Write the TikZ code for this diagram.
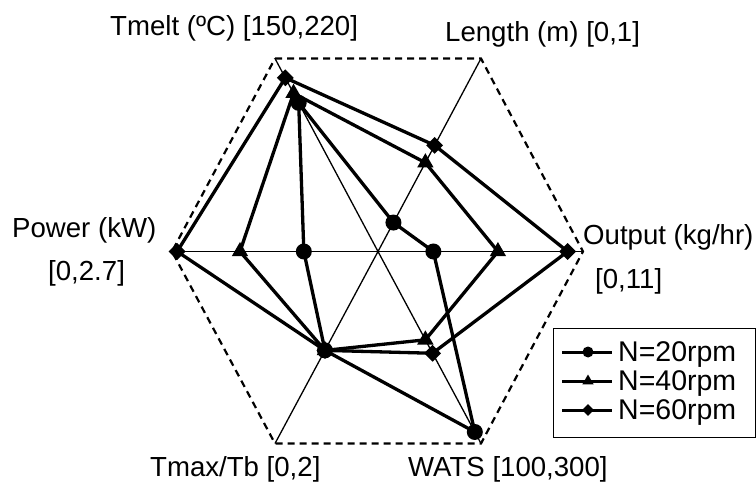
\documentclass[tikz,border=0pt]{standalone}
\usepackage{fontspec}
\setmainfont{Liberation Sans}
\usetikzlibrary{calc,shapes.geometric}
\begin{document}
\begin{tikzpicture}[x=1pt,y=-1pt,
  lbl/.style={inner sep=0,font=\fontsize{27.6}{32}\selectfont,anchor=base west},
  leglbl/.style={inner sep=0,font=\fontsize{28.5}{32}\selectfont,anchor=base west},
  axisline/.style={line width=1.3pt},
  hexline/.style={line width=2.2pt,dash pattern=on 7pt off 5pt},
  series/.style={line width=3.3pt,line join=round},
  mcirc/.style={circle,fill=black,inner sep=0,minimum size=16pt},
  mtri/.style={regular polygon,regular polygon sides=3,fill=black,inner sep=0,minimum size=19pt},
  mdia/.style={diamond,fill=black,inner sep=0,minimum width=17pt,minimum height=17pt},
  lcirc/.style={circle,fill=black,inner sep=0,minimum size=11pt},
  ltri/.style={regular polygon,regular polygon sides=3,fill=black,inner sep=0,minimum size=13pt},
  ldia/.style={diamond,fill=black,inner sep=0,minimum width=12pt,minimum height=12pt},
  legline/.style={line width=3pt},
  legendbox/.style={draw,line width=1pt,inner sep=0,minimum width=202pt,minimum height=109pt}
]
\useasboundingbox (0,0) rectangle (756,484);

% centre and vertices
\coordinate (C) at (378,251.5);
\coordinate (V1) at (275,58.5);
\coordinate (V2) at (481,58.5);
\coordinate (V3) at (583,251.5);
\coordinate (V4) at (481,443.5);
\coordinate (V5) at (275,443.5);
\coordinate (V6) at (172,251.5);

% dashed hexagon
\draw[hexline] (V1) -- (V2) -- (V3) -- (V4) -- (V5) -- (V6) -- cycle;

% axes
\foreach \v in {V1,V2,V3,V4,V5,V6} \draw[axisline] (C) -- (\v);

% N=20
\coordinate (a1) at ($(C)!0.77!(V1)$);
\coordinate (a2) at ($(C)!0.15!(V2)$);
\coordinate (a3) at ($(C)!0.27!(V3)$);
\coordinate (a4) at ($(C)!0.94!(V4)$);
\coordinate (a5) at ($(C)!0.515!(V5)$);
\coordinate (a6) at ($(C)!0.36!(V6)$);
% N=40
\coordinate (b1) at ($(C)!0.82!(V1)$);
\coordinate (b2) at ($(C)!0.46!(V2)$);
\coordinate (b3) at ($(C)!0.585!(V3)$);
\coordinate (b4) at ($(C)!0.46!(V4)$);
\coordinate (b5) at ($(C)!0.515!(V5)$);
\coordinate (b6) at ($(C)!0.67!(V6)$);
% N=60
\coordinate (c1) at ($(C)!0.90!(V1)$);
\coordinate (c2) at ($(C)!0.55!(V2)$);
\coordinate (c3) at ($(C)!0.925!(V3)$);
\coordinate (c4) at ($(C)!0.53!(V4)$);
\coordinate (c5) at ($(C)!0.515!(V5)$);
\coordinate (c6) at ($(C)!0.975!(V6)$);

\draw[series] (a1) -- (a2) -- (a3) -- (a4) -- (a5) -- (a6) -- cycle;
\draw[series] (b1) -- (b2) -- (b3) -- (b4) -- (b5) -- (b6) -- cycle;
\draw[series] (c1) -- (c2) -- (c3) -- (c4) -- (c5) -- (c6) -- cycle;

\foreach \i in {1,...,6} {
  \node[mcirc] (ma\i) at (a\i) {};
  \node[mtri] (mb\i) at (b\i) {};
  \node[mdia] (mc\i) at (c\i) {};
}

% axis labels
\node[lbl] (tmelt) at (110,35.5) {Tmelt (ºC) [150,220]};
\node[lbl] (length) at (445,42) {Length (m) [0,1]};
\node[lbl] (power) at (12,238) {Power (kW)};
\node[lbl] (powerr) at (48,280) {[0,2.7]};
\node[lbl] (output) at (583,245) {Output (kg/hr)};
\node[lbl] (outputr) at (595,288) {[0,11]};
\node[lbl] (tmax) at (150,476) {Tmax/Tb [0,2]};
\node[lbl] (wats) at (408,476) {WATS [100,300]};

% legend
\node[legendbox] (legend) at (654,382.5) {};
\coordinate (l1s) at (562,352); \coordinate (l1e) at (612,352);
\coordinate (l2s) at (562,381); \coordinate (l2e) at (612,381);
\coordinate (l3s) at (562,410); \coordinate (l3e) at (612,410);
\draw[legline] (l1s) -- (l1e);
\draw[legline] (l2s) -- (l2e);
\draw[legline] (l3s) -- (l3e);
\node[lcirc] (lm1) at ($(l1s)!0.52!(l1e)$) {};
\node[ltri] (lm2) at ($(l2s)!0.52!(l2e)$) {};
\node[ldia] (lm3) at ($(l3s)!0.52!(l3e)$) {};
\node[leglbl] (lt1) at (618,361.5) {N=20rpm};
\node[leglbl] (lt2) at (618,390.5) {N=40rpm};
\node[leglbl] (lt3) at (618,419.5) {N=60rpm};
\end{tikzpicture}
\end{document}
